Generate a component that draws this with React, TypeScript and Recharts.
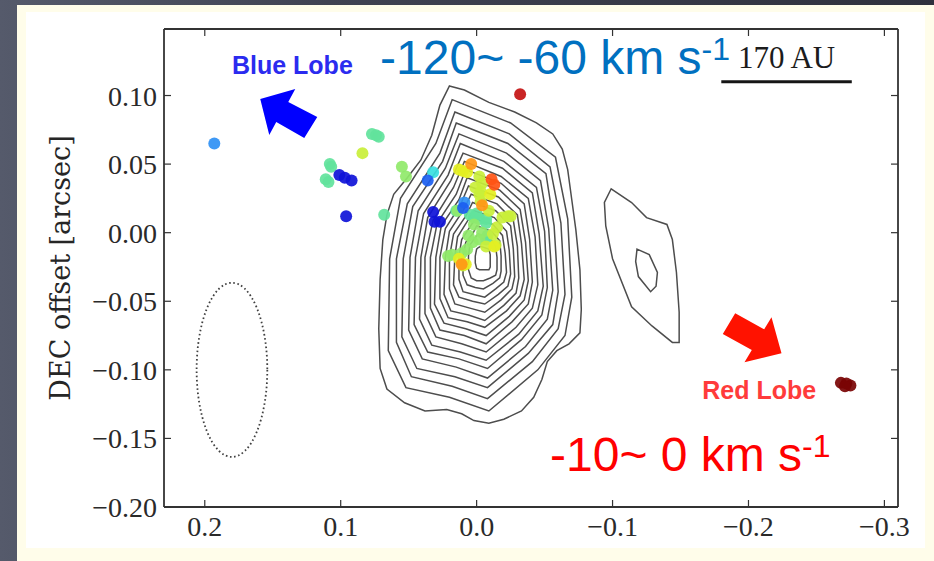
import React from "react";
import {
  ComposedChart,
  Line,
  Scatter,
  XAxis,
  YAxis,
  ReferenceDot,
  ReferenceLine,
} from "recharts";

// all offsets in milliarcsec, axis labels shown in arcsec
type P = [number, number];

const xTicks = [200, 100, 0, -100, -200, -300];
const yTicks = [100, 50, 0, -50, -100, -150, -200];

// continuum contours, outermost first
const contour00: P[] = [[20,107],[9,104],[-9,95],[-28,88],[-44,80],[-56,72],[-63,61],[-67,46],[-70,24],[-73,2],[-76,-27],[-77,-56],[-76,-73],[-68,-81],[-59,-86],[-52,-94],[-48,-107],[-42,-120],[-33,-130],[-20,-136],[-9,-139],[2,-137],[11,-132],[22,-129],[38,-130],[53,-124],[66,-114],[71,-99],[72,-70],[71,-34],[69,-5],[66,13],[61,28],[51,40],[41,53],[33,71],[27,93]];
const contour01: P[] = [[18,97],[-25,80],[-58,55],[-67,10],[-70,-47],[-65,-75],[-45,-100],[-9,-130],[20,-120],[52,-113],[65,-86],[64,-19],[56,25],[30,65]];
const contour02: P[] = [[16,88],[-24,72],[-54,48],[-62,7],[-65,-45],[-60,-70],[-41,-94],[-8,-121],[18,-112],[48,-105],[59,-80],[59,-19],[51,21],[27,58]];
const contour03: P[] = [[15,80],[-23,65],[-51,43],[-57,5],[-60,-43],[-56,-67],[-38,-88],[-8,-113],[16,-105],[44,-99],[55,-76],[54,-19],[47,19],[25,52]];
const contour04: P[] = [[13,72],[-22,58],[-47,38],[-53,3],[-56,-42],[-52,-63],[-36,-83],[-8,-106],[15,-98],[40,-92],[50,-71],[49,-18],[43,16],[23,47]];
const contour05: P[] = [[12,65],[-20,52],[-44,33],[-50,1],[-52,-40],[-48,-60],[-33,-78],[-8,-99],[13,-92],[36,-87],[46,-67],[45,-18],[39,14],[21,42]];
const contour06: P[] = [[10,58],[-19,47],[-41,29],[-46,-1],[-49,-39],[-45,-57],[-31,-74],[-7,-93],[12,-87],[33,-82],[42,-63],[41,-18],[36,11],[19,38]];
const contour07: P[] = [[9,52],[-18,41],[-38,25],[-43,-3],[-45,-38],[-41,-55],[-29,-69],[-7,-87],[11,-81],[30,-76],[38,-59],[38,-18],[32,9],[17,33]];
const contour08: P[] = [[8,46],[-18,36],[-35,21],[-39,-5],[-41,-36],[-38,-52],[-26,-65],[-7,-81],[9,-75],[27,-71],[34,-55],[34,-18],[29,7],[15,28]];
const contour09: P[] = [[7,40],[-17,31],[-32,17],[-36,-7],[-38,-35],[-35,-49],[-24,-61],[-7,-75],[8,-70],[24,-66],[31,-52],[30,-18],[26,5],[13,24]];
const contour10: P[] = [[6,34],[-16,26],[-30,13],[-33,-8],[-35,-34],[-32,-46],[-22,-57],[-6,-69],[7,-65],[21,-62],[27,-48],[27,-18],[23,3],[12,20]];
const contour11: P[] = [[4,28],[-15,21],[-27,9],[-30,-10],[-31,-33],[-29,-44],[-20,-53],[-6,-64],[6,-60],[19,-57],[24,-45],[23,-18],[20,1],[10,16]];
const contour12: P[] = [[3,22],[-14,16],[-25,5],[-27,-12],[-28,-32],[-26,-41],[-18,-49],[-6,-58],[5,-55],[16,-52],[20,-41],[20,-18],[17,-1],[8,12]];
const contour13: P[] = [[2,16],[-13,11],[-22,1],[-24,-13],[-25,-30],[-23,-39],[-16,-45],[-6,-52],[3,-50],[13,-47],[17,-38],[16,-17],[14,-3],[7,8]];
const contour14: P[] = [[1,10],[-12,6],[-19,-2],[-21,-15],[-22,-29],[-20,-36],[-14,-41],[-6,-47],[2,-45],[10,-43],[13,-34],[13,-17],[11,-5],[5,4]];
const contour15: P[] = [[0,5],[-11,1],[-17,-6],[-18,-17],[-18,-28],[-17,-33],[-12,-37],[-5,-41],[1,-40],[7,-38],[10,-31],[10,-17],[8,-7],[3,-1]];
const contour16: P[] = [[-1,-1],[-10,-4],[-14,-10],[-15,-18],[-15,-27],[-14,-31],[-10,-33],[-5,-35],[0,-35],[4,-33],[6,-27],[6,-17],[5,-9],[2,-5]];
const contour17: P[] = [[-3,-10],[-9,-12],[-10,-16],[-10,-21],[-10,-25],[-9,-27],[-7,-27],[-5,-27],[-2,-27],[0,-26],[1,-22],[1,-17],[0,-12],[-1,-11]];
// weak secondary peak to the west
const westOuter: P[] = [[-99,32],[-114,22],[-125,11],[-140,6],[-144,-5],[-147,-29],[-149,-58],[-149,-80],[-144,-80],[-129,-68],[-114,-54],[-100,-19],[-95,5],[-94,22]];
const westInner: P[] = [[-118,-12],[-127,-16],[-133,-29],[-132,-39],[-128,-43],[-119,-32],[-117,-21]];

const contours = [contour00, contour01, contour02, contour03, contour04, contour05, contour06, contour07, contour08, contour09, contour10, contour11, contour12, contour13, contour14, contour15, contour16, contour17, westOuter, westInner];

// maser spots grouped by velocity colour (blue -> red)
const darkBlueSpots: P[] = [[101,42],[97,40],[92,38],[96,12],[32,15],[31,8],[27,8]];
const blueSpots: P[] = [[36,38],[10,18]];
const azureSpots: P[] = [[193,65],[9,22]];
const cyanSpots: P[] = [[32,44]];
const mintSpots: P[] = [[108,50],[107,48],[111,39],[109,37],[77,72],[74,71],[72,70],[68,13],[15,16],[5,13],[2,11],[-2,10],[-7,10],[-7,7],[-8,-2],[-7,-5],[0,14]];
const greenSpots: P[] = [[55,48],[52,41],[2,6],[-2,-5],[3,-7],[7,-12],[11,-15],[18,-16],[21,-17],[14,16],[6,-2],[-4,0]];
const yellowGreenSpots: P[] = [[84,58],[-2,41],[-4,36],[-3,30],[-2,28],[-3,23],[-19,11],[-25,12],[-23,12],[-15,4],[-12,-1],[-14,-9],[-7,-10],[10,-24],[1,33],[-9,16]];
const yellowSpots: P[] = [[10,45],[7,44],[13,46],[13,-19],[8,-23],[-13,-10],[-10,28]];
const orangeSpots: P[] = [[4,50],[-4,20],[11,-23]];
const redOrangeSpots: P[] = [[-11,39],[-13,35]];
const redSpots: P[] = [[-32,101]];
const darkRedSpots: P[] = [[-268,-109.5],[-272,-110],[-275,-111.5],[-271,-112]];

const spotGroups: [P[], string][] = [
  [mintSpots, "#62e39c"],
  [greenSpots, "#90e96a"],
  [yellowGreenSpots, "#c9ef3a"],
  [yellowSpots, "#e4ef22"],
  [orangeSpots, "#ff9616"],
  [redOrangeSpots, "#ff5414"],
  [redSpots, "#c41212"],
  [darkRedSpots, "#7a0404"],
  [cyanSpots, "#38dfe0"],
  [azureSpots, "#2f90f4"],
  [blueSpots, "#1b5ef0"],
  [darkBlueSpots, "#0f12d8"],
];

// synthesized beam (mas)
const beamCenter: P[] = [[180, -100]];
const BEAM_MINOR = 52;
const BEAM_MAJOR = 127;

// scale bar 170 AU
const scaleBar: P[] = [[-180, 110], [-276, 110]];

const X_DOMAIN: [number, number] = [-310, 230];
const Y_DOMAIN: [number, number] = [-200, 148.5];
const PLOT_W = 934 - 164 - 36;
const PLOT_H = 561 - 29 - 54;
const PX_X = PLOT_W / (X_DOMAIN[1] - X_DOMAIN[0]);
const PX_Y = PLOT_H / (Y_DOMAIN[1] - Y_DOMAIN[0]);

const FRAME = "#333333";
const SERIF = "'Liberation Serif', 'Times New Roman', serif";
const SANS = "'Liberation Sans', Arial, sans-serif";

const toPts = (a: P[]) => a.map(([x, y]) => ({ x, y }));

const fmt = (v: number, d: number) => {
  if (v === 0) return (0).toFixed(d);
  const s = Math.abs(v / 1000).toFixed(d);
  return v < 0 ? "\u2212" + s : s;
};

const BottomTick = ({ x, y, payload }: any) => (
  <g>
    <line x1={x} y1={y} x2={x} y2={y - 7} stroke={FRAME} strokeWidth={1.2} />
    <text x={x} y={y + 29} textAnchor="middle" fontFamily={SERIF} fontSize={28} fill="#2a2a2a">
      {fmt(payload.value, 1)}
    </text>
  </g>
);
const TopTick = ({ x, y }: any) => (
  <line x1={x} y1={y} x2={x} y2={y + 7} stroke={FRAME} strokeWidth={1.2} />
);
const LeftTick = ({ x, y, payload }: any) => (
  <g>
    <line x1={x} y1={y} x2={x + 7} y2={y} stroke={FRAME} strokeWidth={1.2} />
    <text x={x - 7} y={y + 10} textAnchor="end" fontFamily={SERIF} fontSize={28} fill="#2a2a2a">
      {fmt(payload.value, 2)}
    </text>
  </g>
);
const RightTick = ({ x, y }: any) => (
  <line x1={x} y1={y} x2={x - 7} y2={y} stroke={FRAME} strokeWidth={1.2} />
);

const arrowPath = (cx: number, cy: number, pts: number[][]) =>
  pts.map(([dx, dy]) => `${cx + dx},${cy + dy}`).join(" ");

const BLUE_ARROW = [[-22,-13],[13,-23],[6,-10],[35,5],[22,26],[-6,10],[-13,23]];
const RED_ARROW = [[23.5,13.5],[13.5,-22.5],[6.2,-10.3],[-22.8,-26.3],[-35.2,-5.7],[-6.2,10.3],[-13.5,22.5]];

export default function App() {
  return (
    <div
      style={{
        position: "fixed",
        left: 0,
        top: 0,
        width: 934,
        height: 561,
        overflow: "hidden",
        background: "linear-gradient(90deg, #555a6b 0%, #3f4251 35%, #2f313d 100%)",
      }}
    >
      <div style={{ position: "absolute", left: 17, top: 5, right: 0, bottom: 0, background: "#fffdea" }} />
      <div style={{ position: "absolute", left: 26, top: 12, width: 899, height: 536, background: "#ffffff" }} />
      <div style={{ position: "absolute", left: 0, top: 0 }}>
        <ComposedChart width={934} height={561} margin={{ top: 28, right: 35, bottom: 14, left: 0 }}>
          <XAxis
            type="number"
            dataKey="x"
            domain={X_DOMAIN}
            reversed
            allowDataOverflow
            ticks={xTicks}
            interval={0}
            height={40}
            tickSize={0}
            tickMargin={0}
            tickLine={false}
            tick={BottomTick}
            axisLine={{ stroke: FRAME, strokeWidth: 1.8 }}
          />
          <XAxis
            xAxisId="top"
            orientation="top"
            type="number"
            dataKey="x"
            domain={X_DOMAIN}
            reversed
            allowDataOverflow
            ticks={xTicks}
            interval={0}
            height={1}
            tickSize={0}
            tickMargin={0}
            tickLine={false}
            tick={TopTick}
            axisLine={{ stroke: FRAME, strokeWidth: 1.8 }}
          />
          <YAxis
            type="number"
            dataKey="y"
            domain={Y_DOMAIN}
            allowDataOverflow
            ticks={yTicks}
            interval={0}
            width={164}
            tickSize={0}
            tickMargin={0}
            tickLine={false}
            tick={LeftTick}
            axisLine={{ stroke: FRAME, strokeWidth: 1.8 }}
            label={{
              value: "DEC offset [arcsec]",
              content: (p: any) => {
                const vb = p.viewBox || { y: 29, height: 478 };
                const cx = 60;
                const cy = vb.y + vb.height / 2;
                return (
                  <text
                    x={cx}
                    y={cy}
                    transform={`rotate(-90 ${cx} ${cy})`}
                    textAnchor="middle"
                    dominantBaseline="central"
                    fontFamily="'DejaVu Serif', serif"
                    fontSize={27}
                    fill="#262626"
                  >
                    DEC offset [arcsec]
                  </text>
                );
              },
            }}
          />
          <YAxis
            yAxisId="right"
            orientation="right"
            type="number"
            dataKey="y"
            domain={Y_DOMAIN}
            allowDataOverflow
            ticks={yTicks}
            interval={0}
            width={1}
            tickSize={0}
            tickMargin={0}
            tickLine={false}
            tick={RightTick}
            axisLine={{ stroke: FRAME, strokeWidth: 1.8 }}
          />

          {contours.map((c, i) => (
            <Line
              key={`c${i}`}
              data={toPts(c)}
              dataKey="y"
              type="linearClosed"
              stroke="#4d4d4d"
              strokeWidth={1.5}
              dot={false}
              activeDot={false}
              isAnimationActive={false}
            />
          ))}

          <Scatter
            data={toPts(beamCenter)}
            dataKey="y"
            isAnimationActive={false}
            shape={(p: any) => (
              <ellipse
                cx={p.cx}
                cy={p.cy}
                rx={(BEAM_MINOR / 2) * PX_X}
                ry={(BEAM_MAJOR / 2) * PX_Y}
                fill="none"
                stroke="#404040"
                strokeWidth={1.8}
                strokeDasharray="1.6 2.6"
              />
            )}
          />

          {spotGroups.map(([pts, color], i) => (
            <Scatter
              key={`s${i}`}
              data={toPts(pts)}
              dataKey="y"
              isAnimationActive={false}
              shape={(p: any) => (
                <circle cx={p.cx} cy={p.cy} r={6} fill={color} fillOpacity={0.92} />
              )}
            />
          ))}

          <ReferenceLine
            segment={toPts(scaleBar)}
            stroke="#151515"
            strokeWidth={3}
          />
          <ReferenceDot
            x={-228}
            y={120}
            r={0}
            shape={(p: any) => (
              <text x={p.cx} y={p.cy} textAnchor="middle" fontFamily={SERIF} fontSize={31} fill="#1c1c1c">
                170 AU
              </text>
            )}
          />
          <ReferenceDot
            x={143}
            y={88}
            r={0}
            shape={(p: any) => <polygon points={arrowPath(p.cx, p.cy, BLUE_ARROW)} fill="#0000ff" />}
          />
          <ReferenceDot
            x={-207}
            y={-78}
            r={0}
            shape={(p: any) => <polygon points={arrowPath(p.cx, p.cy, RED_ARROW)} fill="#ff1200" />}
          />
          <ReferenceDot
            x={180}
            y={116}
            r={0}
            shape={(p: any) => (
              <text x={p.cx} y={p.cy} fontFamily={SANS} fontSize={25} fontWeight="bold" fill="#2b2bef">
                Blue Lobe
              </text>
            )}
          />
          <ReferenceDot
            x={-166}
            y={-121}
            r={0}
            shape={(p: any) => (
              <text x={p.cx} y={p.cy} fontFamily={SANS} fontSize={25} fontWeight="bold" fill="#ff3b3b">
                Red Lobe
              </text>
            )}
          />
          <ReferenceDot
            x={71}
            y={116}
            r={0}
            shape={(p: any) => (
              <text x={p.cx} y={p.cy} fontFamily={SANS} fontSize={48} fill="#0070c0">
                -120~ -60 km s
                <tspan dy={-14} fontSize={32}>-1</tspan>
              </text>
            )}
          />
          <ReferenceDot
            x={-54}
            y={-174}
            r={0}
            shape={(p: any) => (
              <text x={p.cx} y={p.cy} fontFamily={SANS} fontSize={48} fill="#ff0000">
                -10~ 0 km s
                <tspan dy={-14} fontSize={32}>-1</tspan>
              </text>
            )}
          />
        </ComposedChart>
      </div>
    </div>
  );
}
